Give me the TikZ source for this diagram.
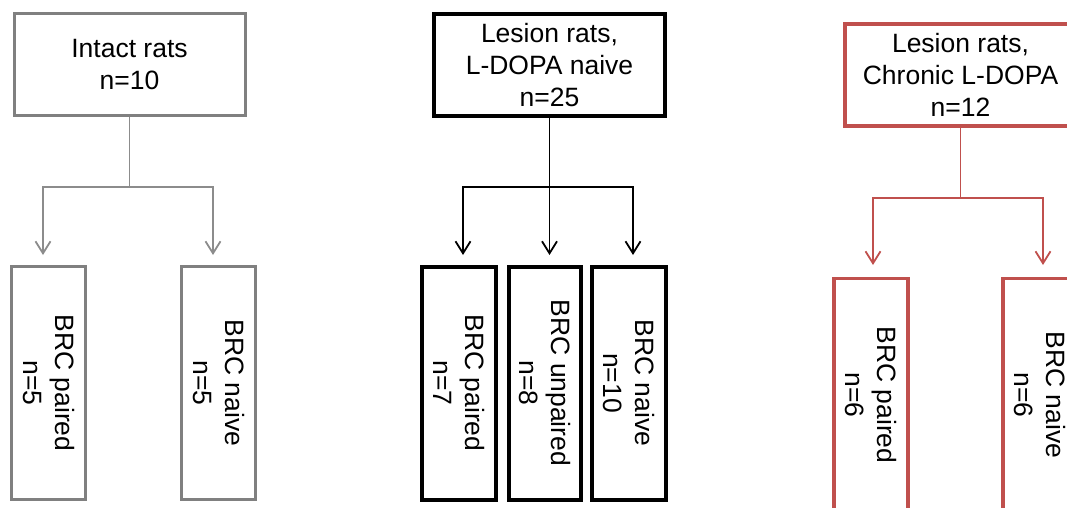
\documentclass[tikz,border=0pt]{standalone}
\usepackage{fontspec}
\setmainfont{Liberation Sans}
\usetikzlibrary{arrows.meta}
\definecolor{boxgray}{HTML}{808080}
\definecolor{linegray}{HTML}{8C8C8C}
\definecolor{boxred}{HTML}{C0504D}
\begin{document}
\begin{tikzpicture}[x=1pt,y=-1pt,
  txt/.style={font=\fontsize{26.5}{32}\selectfont, align=center, text=black},
  topbox/.style={txt, draw, rectangle, minimum width=231pt, minimum height=102pt, inner sep=0pt},
  subbox/.style={txt, draw, rectangle, rotate=-90, minimum width=233pt, minimum height=74pt, inner sep=0pt},
  conn/.style={line width=1.8pt},
  arr/.style={conn, -{Straight Barb[length=12pt,width=15pt,line width=1.8pt]}},
]
\useasboundingbox (0,0) rectangle (1067,508);
\clip (0,0) rectangle (1067,508);

% Gray group
\node[topbox, draw=boxgray, line width=3pt] (A) at (129.5,65) {Intact rats\\n=10};
\node[subbox, draw=boxgray, line width=3pt] (A1) at (48.5,383) {BRC paired\\n=5};
\node[subbox, draw=boxgray, line width=3pt] (A2) at (218.5,383) {BRC naive\\n=5};
\coordinate (Aj) at (129.5,187);
\coordinate (A1t) at (43,255);
\coordinate (A2t) at (213,255);
\draw[conn, linegray] (A.south) -- (Aj);
\draw[arr, linegray] (Aj) -| (A1t);
\draw[arr, linegray] (Aj) -| (A2t);

% Black group
\node[topbox, draw=black, line width=4pt] (B) at (549.5,65) {Lesion rats,\\L-DOPA naive\\n=25};
\node[subbox, draw=black, line width=4pt] (B1) at (459,383) {BRC paired\\n=7};
\node[subbox, draw=black, line width=4pt, minimum height=72pt] (B2) at (544.5,383) {BRC unpaired\\n=8};
\node[subbox, draw=black, line width=4pt] (B3) at (628.5,383) {BRC naive\\n=10};
\coordinate (Bj) at (549.5,187);
\coordinate (B1t) at (463,255);
\coordinate (B2t) at (549.5,255);
\coordinate (B3t) at (633,255);
\draw[conn, black] (B.south) -- (Bj);
\draw[arr, black] (Bj) -| (B1t);
\draw[arr, black] (Bj) -- (B2t);
\draw[arr, black] (Bj) -| (B3t);

% Red group
\node[topbox, draw=boxred, line width=3.5pt] (C) at (960.5,75) {Lesion rats,\\Chronic L-DOPA\\n=12};
\node[subbox, draw=boxred, line width=3.5pt] (C1) at (871,395) {BRC paired\\n=6};
\node[subbox, draw=boxred, line width=3.5pt] (C2) at (1040,395) {BRC naive\\n=6};
\coordinate (Cj) at (960.5,198);
\coordinate (C1t) at (873,265);
\coordinate (C2t) at (1043,265);
\draw[conn, boxred] (C.south) -- (Cj);
\draw[arr, boxred] (Cj) -| (C1t);
\draw[arr, boxred] (Cj) -| (C2t);
\end{tikzpicture}
\end{document}
